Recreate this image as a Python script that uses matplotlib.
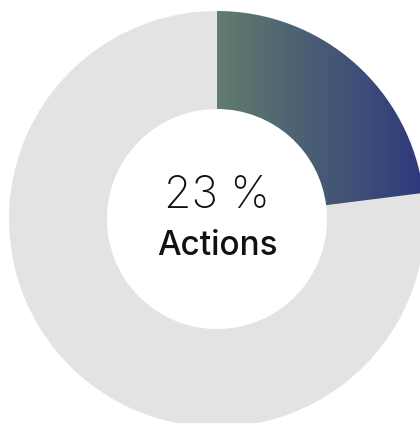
import numpy as np
import matplotlib
matplotlib.use("Agg")
from matplotlib import pyplot as plt
from matplotlib.colors import LinearSegmentedColormap

# share of "Actions" and the rest
values = [23, 77]
label = "Actions"
pct_text = "23 %"

grad_left = "#627c6e"
grad_right = "#2e397c"
rest_color = "#e3e3e3"

fig = plt.figure(figsize=(4.2, 4.23), dpi=100)
ax = fig.add_axes([0, 0, 1, 1])

cx, cy = 217, 204
R = 208
ring = 98

wedges, _ = ax.pie(values, colors=["none", rest_color], startangle=90,
                   counterclock=False, radius=R, center=(cx, cy),
                   wedgeprops=dict(width=ring, linewidth=0), frame=True)
ax.set_xlim(0, 420)
ax.set_ylim(0, 423)
ax.set_aspect("equal")
ax.axis("off")

# gradient for the first wedge, left to right across its box
cmap = LinearSegmentedColormap.from_list("g", [grad_left, grad_right])
grad = np.linspace(0, 1, 256).reshape(1, -1)
x1 = cx + R * np.sin(np.deg2rad(values[0] / sum(values) * 360))
im = ax.imshow(grad, cmap=cmap, aspect="auto",
               extent=(cx, x1, cy, cy + R), zorder=1)
im.set_clip_path(wedges[0])

ax.text(cx, 423 - 208, pct_text, ha="center", va="baseline",
        fontsize=32, fontfamily="Inter", fontweight="light", color="#111111")
ax.text(cx, 423 - 255, label, ha="center", va="baseline",
        fontsize=24, fontfamily="Inter", fontweight="medium", color="#111111")

fig.savefig("out.png", dpi=100)
